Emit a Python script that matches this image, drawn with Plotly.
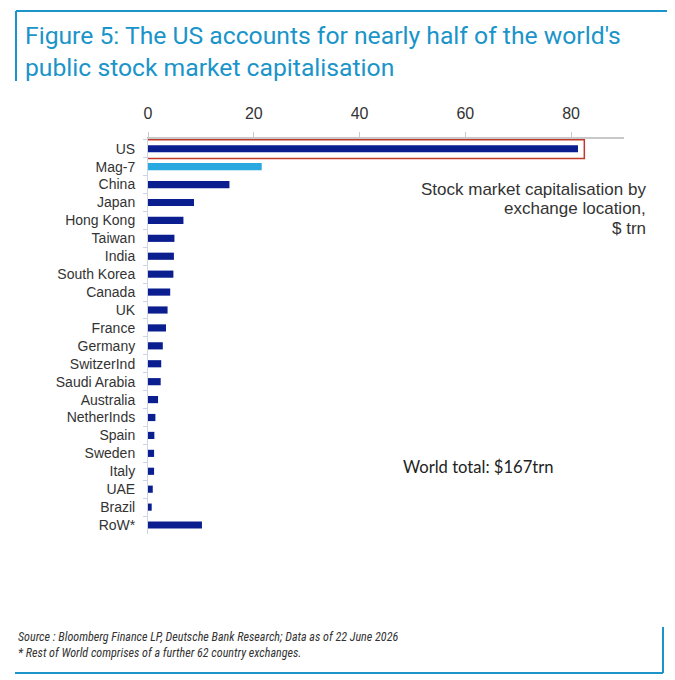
import plotly.graph_objects as go

# data ($ trn, by exchange location)
markets = ["US", "Mag-7", "China", "Japan", "Hong Kong", "Taiwan", "India",
           "South Korea", "Canada", "UK", "France", "Germany", "SwitzerInd",
           "Saudi Arabia", "Australia", "NetherInds", "Spain", "Sweden",
           "Italy", "UAE", "Brazil", "RoW*"]
cap_trn = [81.3, 21.5, 15.4, 8.7, 6.7, 5.0, 4.9, 4.8, 4.2, 3.7, 3.4, 2.8,
           2.5, 2.4, 1.9, 1.4, 1.2, 1.15, 1.15, 0.9, 0.7, 10.2]
x_ticks = [0, 20, 40, 60, 80]

NAVY = "#0b1e8f"
LIGHT = "#29a9e0"
DB_BLUE = "#1a94c9"

W, H = 675, 680
OFF = 8  # page body margin shifts the figure by this much
L, R, T, B = 140, 59, 131, 154
pw, ph = W - L - R, H - T - B


# page pixel -> paper coords
def px_x(p):
    return (p - OFF - L) / pw


def px_y(p):
    return (H - B - (p - OFF)) / ph


colors = [LIGHT if m == "Mag-7" else NAVY for m in markets]

fig = go.Figure(go.Bar(
    x=cap_trn, y=markets, orientation="h", width=0.4,
    marker=dict(color=colors, line=dict(width=0)),
    hoverinfo="x+y",
))

fig.update_layout(
    width=W, height=H,
    margin=dict(l=L, r=R, t=T, b=B),
    paper_bgcolor="white", plot_bgcolor="white",
    showlegend=False,
    font=dict(family="Liberation Sans, Arial, sans-serif", color="#333333"),
    title=dict(
        text="Figure 5: The US accounts for nearly half of the world's<br>public stock market capitalisation",
        x=17 / W, xanchor="left", xref="container",
        y=1 - 36 / H, yanchor="top", yref="container",
        font=dict(family="Roboto, sans-serif", size=24.7, color=DB_BLUE),
    ),
)

fig.update_xaxes(
    side="top", range=[0, 90], tickvals=x_ticks,
    showgrid=False, zeroline=False,
    showline=True, linecolor="#c8c8c8", linewidth=2,
    ticks="outside", ticklen=5, tickcolor="#c8c8c8",
    ticklabelstandoff=7,
    tickfont=dict(size=16, color="#333333"),
)
fig.update_yaxes(
    autorange="reversed", type="category",
    showgrid=False, zeroline=False,
    showline=True, linecolor="#cfd3e6", linewidth=1,
    ticks="outside", ticklen=4, tickcolor="#cfd3e6", tickson="boundaries",
    ticklabelstandoff=9,
    tickfont=dict(size=14, color="#333333"),
)

shapes = [
    # red box round the US bar
    dict(type="rect", xref="x", yref="y", x0=-0.2, x1=82.5, y0=-0.5, y1=0.55,
         line=dict(color="#c0392b", width=1.5), fillcolor="rgba(0,0,0,0)"),
    # title frame
    dict(type="line", xref="paper", yref="paper", x0=px_x(16), x1=px_x(700),
         y0=px_y(11), y1=px_y(11), line=dict(color=DB_BLUE, width=2)),
    dict(type="line", xref="paper", yref="paper", x0=px_x(16), x1=px_x(16),
         y0=px_y(11), y1=px_y(81), line=dict(color=DB_BLUE, width=2)),
    # footer frame
    dict(type="line", xref="paper", yref="paper", x0=px_x(15), x1=px_x(663),
         y0=px_y(673), y1=px_y(673), line=dict(color=DB_BLUE, width=2)),
    dict(type="line", xref="paper", yref="paper", x0=px_x(663), x1=px_x(663),
         y0=px_y(673), y1=px_y(627), line=dict(color=DB_BLUE, width=2)),
]
fig.update_layout(shapes=shapes)

note_lines = ["Stock market capitalisation by", "exchange location,", "$ trn"]
note_y = [189, 209, 228]
annotations = [
    dict(text=t, xref="paper", yref="paper", x=px_x(648), y=px_y(yy),
         xanchor="right", yanchor="middle", showarrow=False,
         font=dict(family="Liberation Sans, Arial, sans-serif", size=17, color="#333333"))
    for t, yy in zip(note_lines, note_y)
]
annotations += [
    dict(text="World total: $167trn",
         xref="paper", yref="paper", x=px_x(401), y=px_y(467),
         xanchor="left", yanchor="middle", showarrow=False,
         font=dict(family="Lato, sans-serif", size=16.6, color="#222222")),
    dict(text="<i>Source : Bloomberg Finance LP, Deutsche Bank Research; Data as of 22 June 2026<br>"
              "* Rest of World comprises of a further 62 country exchanges.</i>",
         xref="paper", yref="paper", x=px_x(16), y=px_y(645),
         xanchor="left", yanchor="middle", align="left", showarrow=False,
         font=dict(family="Liberation Sans Narrow, Roboto Condensed, Roboto, sans-serif",
                   size=12.1, color="#333333")),
]
fig.update_layout(annotations=annotations)

fig.write_html("out.html")
